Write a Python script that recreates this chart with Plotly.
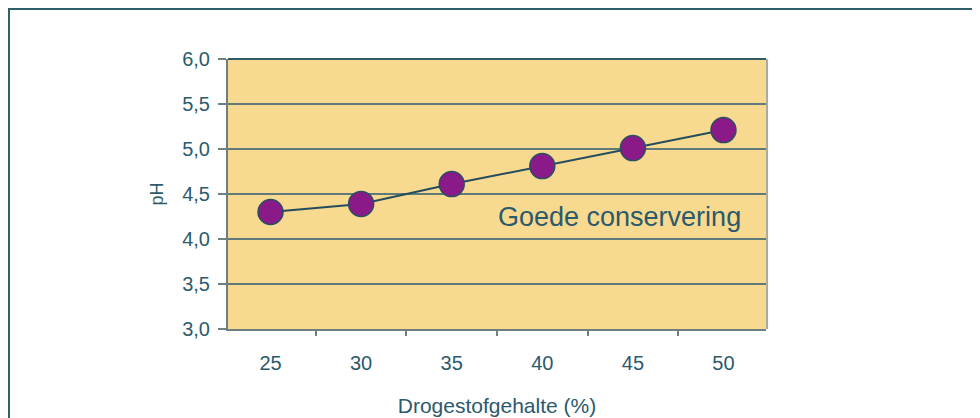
import plotly.graph_objects as go

categories = ["25", "30", "35", "40", "45", "50"]
ph_values = [4.3, 4.39, 4.61, 4.81, 5.01, 5.21]
y_tick_vals = [3.0, 3.5, 4.0, 4.5, 5.0, 5.5, 6.0]
y_tick_text = ["3,0", "3,5", "4,0", "4,5", "5,0", "5,5", "6,0"]
annotation_text = "Goede conservering"
x_title = "Drogestofgehalte (%)"
y_title = "pH"

text_color = "#2b5a6c"
line_color = "#234c5c"
font_family = "Liberation Sans, Arial, sans-serif"

fig = go.Figure()
fig.add_trace(go.Scatter(
    x=categories, y=ph_values, mode="lines+markers",
    line=dict(color=line_color, width=2),
    marker=dict(size=25, color="#8a1a88", line=dict(color="#2a4f62", width=1.5)),
    showlegend=False, cliponaxis=False,
))

fig.add_annotation(
    x=0.7286, xref="paper", y=4.245, yref="y",
    xanchor="center", yanchor="middle",
    text=annotation_text, showarrow=False,
    font=dict(size=27, color=text_color, family=font_family),
)

# outer frame
fig.add_shape(type="rect", xref="paper", yref="paper",
              x0=-0.4071, x1=1.3903, y0=-0.40, y1=1.1852,
              line=dict(color="#2f5f6a", width=2), fillcolor="rgba(0,0,0,0)", layer="below")
# top edge of plot area
fig.add_shape(type="line", xref="paper", yref="paper", x0=0, x1=1, y0=1, y1=1,
              line=dict(color="#2f5a66", width=2))
# right edge shadow
fig.add_shape(type="line", xref="paper", yref="paper", x0=1.002, x1=1.002, y0=0, y1=1,
              line=dict(color="#a8a8a0", width=2))

fig.update_layout(
    width=972, height=410,
    margin=dict(l=220, r=214, t=51, b=89),
    paper_bgcolor="white", plot_bgcolor="#f8d990",
    font=dict(family=font_family, size=20, color=text_color),
    xaxis=dict(
        type="category", tickson="boundaries", ticks="outside", ticklen=5,
        tickcolor="#6f8080", tickwidth=1.5, showgrid=False,
        showline=True, linecolor="#6f7f80", linewidth=2,
        ticklabelstandoff=15, automargin=False,
        title=dict(text=x_title, font=dict(size=21, color=text_color), standoff=25),
        tickfont=dict(size=20, color=text_color),
    ),
    yaxis=dict(
        range=[3.0, 6.0], tickvals=y_tick_vals, ticktext=y_tick_text,
        ticks="outside", ticklen=8, tickcolor="#6f8080", tickwidth=1.5,
        showgrid=True, gridcolor="#5f7a78", gridwidth=1.5,
        showline=True, linecolor="#6f7f80", linewidth=2, zeroline=False,
        ticklabelstandoff=4, automargin=False,
        title=dict(text=y_title, font=dict(size=18, color=text_color), standoff=14),
        tickfont=dict(size=20, color=text_color),
    ),
)

fig.write_html("out.html")
